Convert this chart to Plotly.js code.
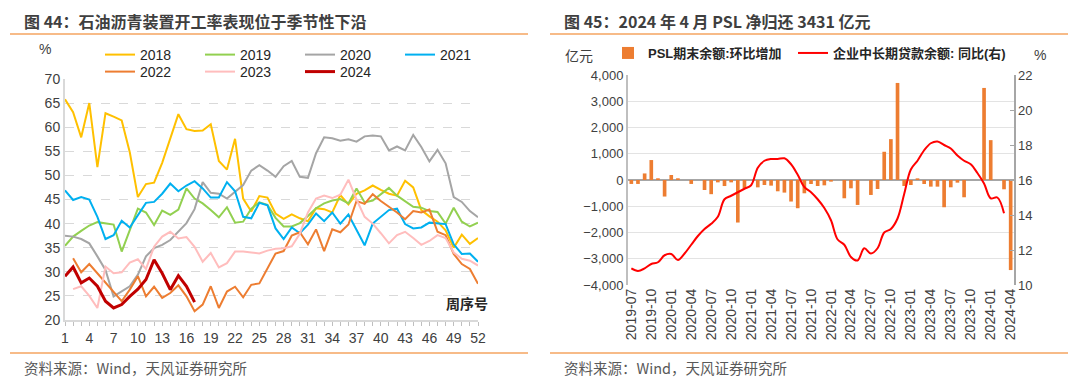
<!DOCTYPE html>
<html><head><meta charset="utf-8">
<script src="https://cdn.plot.ly/plotly-3.0.1.min.js"></script>
<style>html,body{margin:0;padding:0;background:#fff}#c{width:1080px;height:384px}</style>
</head><body><div id="c"></div>
<script>
// ---------- Left chart: asphalt plant operating rate (%) by week ----------
const weeks = Array.from({length:52},(_,i)=>i+1);
const y2018 = [65.8,63.1,57.9,65,51.7,62.9,62.2,61.4,54.8,45.5,48.2,48.5,52.6,57.9,62.7,59.6,59.2,59.3,60.6,53,51.2,57.6,45.2,42.5,45.7,45.4,42.1,41,41.9,41.1,40.5,43.2,43,42.3,45.9,44,46.2,46.9,47.9,47,46.2,45.8,48.9,47.5,42.8,41.5,40.4,38.6,35,37.7,35.8,37];
const y2019 = [35.4,37.3,38.5,39.6,40.3,40.1,39.8,34.2,38.7,43.1,42.3,39.7,42.7,41.8,42.9,47.3,45.2,44.2,42.8,41.3,43.4,40.2,40.4,43.1,44.4,43.9,41.2,39.4,39.4,40.1,41.6,43.2,44.2,44.8,45.1,44.2,47.3,44.4,44.8,46.1,47.4,45.8,44.6,43.5,43.3,42.6,42.4,40,43.3,40.4,39.4,40.2];
const y2020 = [37.5,37.3,36.8,35.9,33.2,30.4,24.9,26,27,29.4,33.2,34.9,35.6,36.6,38.3,40.1,43,48.6,46.4,46.2,45.2,46.6,48,51,52.1,51,49.7,51.9,53,49.7,49.5,54.6,57.9,57.7,57.2,57.5,57,58.1,58.3,58.1,55.2,56,55.2,58.4,55.9,52.9,55.3,52.5,45.5,44.5,42.6,41.3];
const y2021 = [46.9,44.9,45.5,45,41.4,36.8,37.6,40.6,39.2,41.8,44.3,44.5,46.2,48.3,46.7,47.9,48.8,47.3,45.4,45.4,48.6,46.7,41.4,41.1,44.3,43.8,39,36.8,39.2,38,39.8,42.1,40.5,42.3,40,41.9,38.7,35.5,40,41.4,42.8,43.1,39.9,39,39.2,40.2,40.1,39.9,35.7,33.7,33.8,32.1];
const y2022 = [null,32.8,29.9,31.6,29.7,27.7,25.8,23.9,26.3,29.1,24.9,26.9,24.6,25.6,27.2,24.9,21.8,23.2,27,22.5,25.9,26.9,24.7,27.3,27.6,30.7,33.8,34.3,37.5,38.2,35.7,38.8,34.3,38.8,38.2,39.8,44.7,44.1,46.1,44.7,43.5,42.3,40.9,42.6,42.3,42.9,38.3,37.6,33.7,31.6,30.6,27.5];
const y2023 = [null,26.4,27,25,22.5,31.1,29.7,29.9,31.9,32.6,30.6,35.2,37.3,38.3,36.9,37.2,35.2,32.1,33.9,30.9,31.8,34.2,34.2,34,33.8,34.4,34.8,34.9,35.3,37.9,42.3,45.2,45.8,45.3,46,49.1,45,41.4,40,38,35.9,37.6,38.3,37,35.6,36.4,37.6,37,34,32.7,32.3,31.3];
const y2024 = [29.1,31,27.7,28.7,27,23.9,22.5,23.2,24.9,26.4,28.4,32.5,29.7,26.3,29.2,27,23.7];
const yearNames = ['2018','2019','2020','2021','2022','2023','2024'];

// ---------- Right chart: PSL monthly change (亿元) & corporate mid/long-term loan yoy (%) ----------
const months = [];
for (let i=0;i<58;i++){const t=2019*12+6+i;const yy=Math.floor(t/12),mm=t%12+1;months.push(yy+'-'+(mm<10?'0':'')+mm);}
const pslChange = [-150,-150,250,760,65,-630,190,65,0,-150,0,-380,-540,-90,-230,-90,-1620,-330,0,-280,-190,-215,-430,-480,-820,-1075,-506,-152,-228,-203,-63,0,-696,-316,-950,0,-570,-342,1076,1557,3697,-228,-190,63,-152,-253,-253,-1038,-278,-101,-658,0,0,3507,1519,0,-354,-3431];
const loanYoy = [10.95,10.8,10.95,11.2,11.3,11.7,11.77,11.43,11.8,12.3,12.8,13.2,13.5,13.9,14.9,15.1,15.3,15.5,15.7,16.7,17.1,17.2,17.2,17.24,16.9,16.3,15.6,15.3,14.9,14.4,13.7,12.6,12.3,11.6,11.4,12.1,11.8,12.1,13.0,13.2,13.8,15.2,16.6,17.1,17.7,18.1,18.2,18.0,17.8,17.4,17.1,16.9,16.4,15.8,14.95,15.0,14.1];
const xTickVals = months.filter((_,i)=>i%3===0);

const W=1080,H=384;
const X=v=>v/W, Y=v=>1-v/H;
const cjk = '"Liberation Sans", Arial, "Noto Sans CJK SC", sans-serif';
const lineColors = ['#FFC000','#92D050','#A5A5A5','#00B0F0','#ED7D31','#FFBDBD','#C00000'];
const series = [y2018,y2019,y2020,y2021,y2022,y2023,y2024];

const traces = series.map((s,i)=>({
  type:'scatter', mode:'lines', x:weeks.slice(0,s.length), y:s, name:yearNames[i],
  line:{color:lineColors[i], width: i===6?3:2}, xaxis:'x', yaxis:'y',
  legend: i<4 ? 'legend' : 'legend2', connectgaps:false, hoverinfo:'skip'
}));
traces.push({type:'bar', x:months, y:pslChange, name:'PSL期末余额:环比增加', marker:{color:'#ED7D31'},
  xaxis:'x2', yaxis:'y2', legend:'legend3', hoverinfo:'skip'});
traces.push({type:'scatter', mode:'lines', x:months.slice(0,loanYoy.length), y:loanYoy, name:'企业中长期贷款余额: 同比(右)',
  line:{color:'#FF0000', width:2, shape:'spline', smoothing:1}, xaxis:'x2', yaxis:'y3', legend:'legend4', hoverinfo:'skip'});

const txt = '#404040';
const legFont = {size:13, color:'#262626', weight:'bold'};
const layout = {
  width:W, height:H, margin:{l:0,r:0,t:0,b:0}, paper_bgcolor:'#fff', plot_bgcolor:'#fff',
  font:{family:cjk, color:txt, size:14}, bargap:0.45, showlegend:true,
  xaxis:{domain:[X(65),X(478)], range:[1,52], tickvals:weeks, ticktext:weeks.map(w=>(w-1)%3===0?String(w):''),
    ticks:'outside', ticklen:4, tickcolor:'#bfbfbf', showline:true, linecolor:'#d9d9d9', linewidth:2,
    showgrid:false, zeroline:false, tickfont:{size:14, color:txt}, anchor:'y', fixedrange:true},
  yaxis:{domain:[Y(320),Y(79)], range:[20,70], dtick:5, tick0:20, showgrid:true, gridcolor:'#d9d9d9', griddash:'dash', gridwidth:1,
    showline:true, linecolor:'#d9d9d9', linewidth:2, ticks:'', zeroline:false, tickfont:{size:14, color:txt}, anchor:'x'},
  xaxis2:{domain:[X(628),X(1014)], anchor:'y2', type:'category', range:[-0.5,57.5], tickvals:xTickVals, ticktext:xTickVals,
    tickangle:-90, ticks:'', showgrid:false, zeroline:false, showline:false, tickfont:{size:14, color:txt}},
  yaxis2:{domain:[Y(285),Y(75)], anchor:'x2', range:[-4000,4000], dtick:1000, tickformat:',', showgrid:true, gridcolor:'#e3e3e3',
    showline:true, linecolor:'#bfbfbf', linewidth:2, zeroline:true, zerolinecolor:'#a6a6a6', zerolinewidth:1.5,
    ticks:'', tickfont:{size:13, color:txt}},
  yaxis3:{overlaying:'y2', anchor:'x2', side:'right', range:[10,22], dtick:2, showgrid:false, zeroline:false,
    showline:true, linecolor:'#a6a6a6', linewidth:1.5, ticks:'inside', ticklen:4, tickcolor:'#a6a6a6', tickfont:{size:13, color:txt}},
  legend:{orientation:'h', x:X(100), y:Y(39), xanchor:'left', yanchor:'top', entrywidth:55, entrywidthmode:'pixels',
    font:{size:14, color:'#262626'}, bgcolor:'rgba(0,0,0,0)', itemwidth:30, tracegroupgap:0},
  legend2:{orientation:'h', x:X(100), y:Y(56), xanchor:'left', yanchor:'top', entrywidth:55, entrywidthmode:'pixels',
    font:{size:14, color:'#262626'}, bgcolor:'rgba(0,0,0,0)', itemwidth:30},
  legend3:{orientation:'h', x:X(608), y:Y(38), xanchor:'left', yanchor:'top', font:legFont, bgcolor:'rgba(0,0,0,0)', itemwidth:30},
  legend4:{orientation:'h', x:X(793), y:Y(38), xanchor:'left', yanchor:'top', font:legFont, bgcolor:'rgba(0,0,0,0)', itemwidth:30},
  shapes:[
    {type:'line', xref:'paper', yref:'paper', x0:X(10), x1:X(528), y0:Y(34), y1:Y(34), line:{color:'#F4A460', width:1.5}},
    {type:'line', xref:'paper', yref:'paper', x0:X(550), x1:X(1068), y0:Y(34), y1:Y(34), line:{color:'#F4A460', width:1.5}},
    {type:'line', xref:'paper', yref:'paper', x0:X(10), x1:X(528), y0:Y(353), y1:Y(353), line:{color:'#F4A460', width:1.5}},
    {type:'line', xref:'paper', yref:'paper', x0:X(550), x1:X(1068), y0:Y(353), y1:Y(353), line:{color:'#F4A460', width:1.5}}
  ],
  annotations:[
    {xref:'paper', yref:'paper', x:X(22), y:Y(21), xanchor:'left', yanchor:'middle', showarrow:false,
      text:'<b>图 44：石油沥青装置开工率表现位于季节性下沿</b>', font:{size:16, color:'#3f3f3f', family:'"Noto Sans CJK SC", sans-serif'}},
    {xref:'paper', yref:'paper', x:X(562), y:Y(21), xanchor:'left', yanchor:'middle', showarrow:false,
      text:'<b>图 45：2024 年 4 月 PSL 净归还 3431 亿元</b>', font:{size:16, color:'#3f3f3f', family:'"Noto Sans CJK SC", sans-serif'}},
    {xref:'paper', yref:'paper', x:X(22), y:Y(367), xanchor:'left', yanchor:'middle', showarrow:false,
      text:'资料来源：Wind，天风证券研究所', font:{size:14.5, color:'#595959', family:'"Noto Sans CJK SC", sans-serif'}},
    {xref:'paper', yref:'paper', x:X(562), y:Y(367), xanchor:'left', yanchor:'middle', showarrow:false,
      text:'资料来源：Wind，天风证券研究所', font:{size:14.5, color:'#595959', family:'"Noto Sans CJK SC", sans-serif'}},
    {xref:'paper', yref:'paper', x:X(45), y:Y(49), xanchor:'center', yanchor:'middle', showarrow:false, text:'%', font:{size:14, color:txt}},
    {xref:'paper', yref:'paper', x:X(467), y:Y(303), xanchor:'center', yanchor:'middle', showarrow:false,
      text:'<b>周序号</b>', font:{size:14, color:'#262626', family:'"Noto Sans CJK SC", sans-serif'}},
    {xref:'paper', yref:'paper', x:X(579), y:Y(55), xanchor:'center', yanchor:'middle', showarrow:false,
      text:'亿元', font:{size:14, color:txt, family:'"Noto Sans CJK SC", sans-serif'}},
    {xref:'paper', yref:'paper', x:X(1040), y:Y(55), xanchor:'center', yanchor:'middle', showarrow:false, text:'%', font:{size:14, color:txt}}
  ]
};
Plotly.newPlot('c', traces, layout, {staticPlot:true, displayModeBar:false});
</script></body></html>
